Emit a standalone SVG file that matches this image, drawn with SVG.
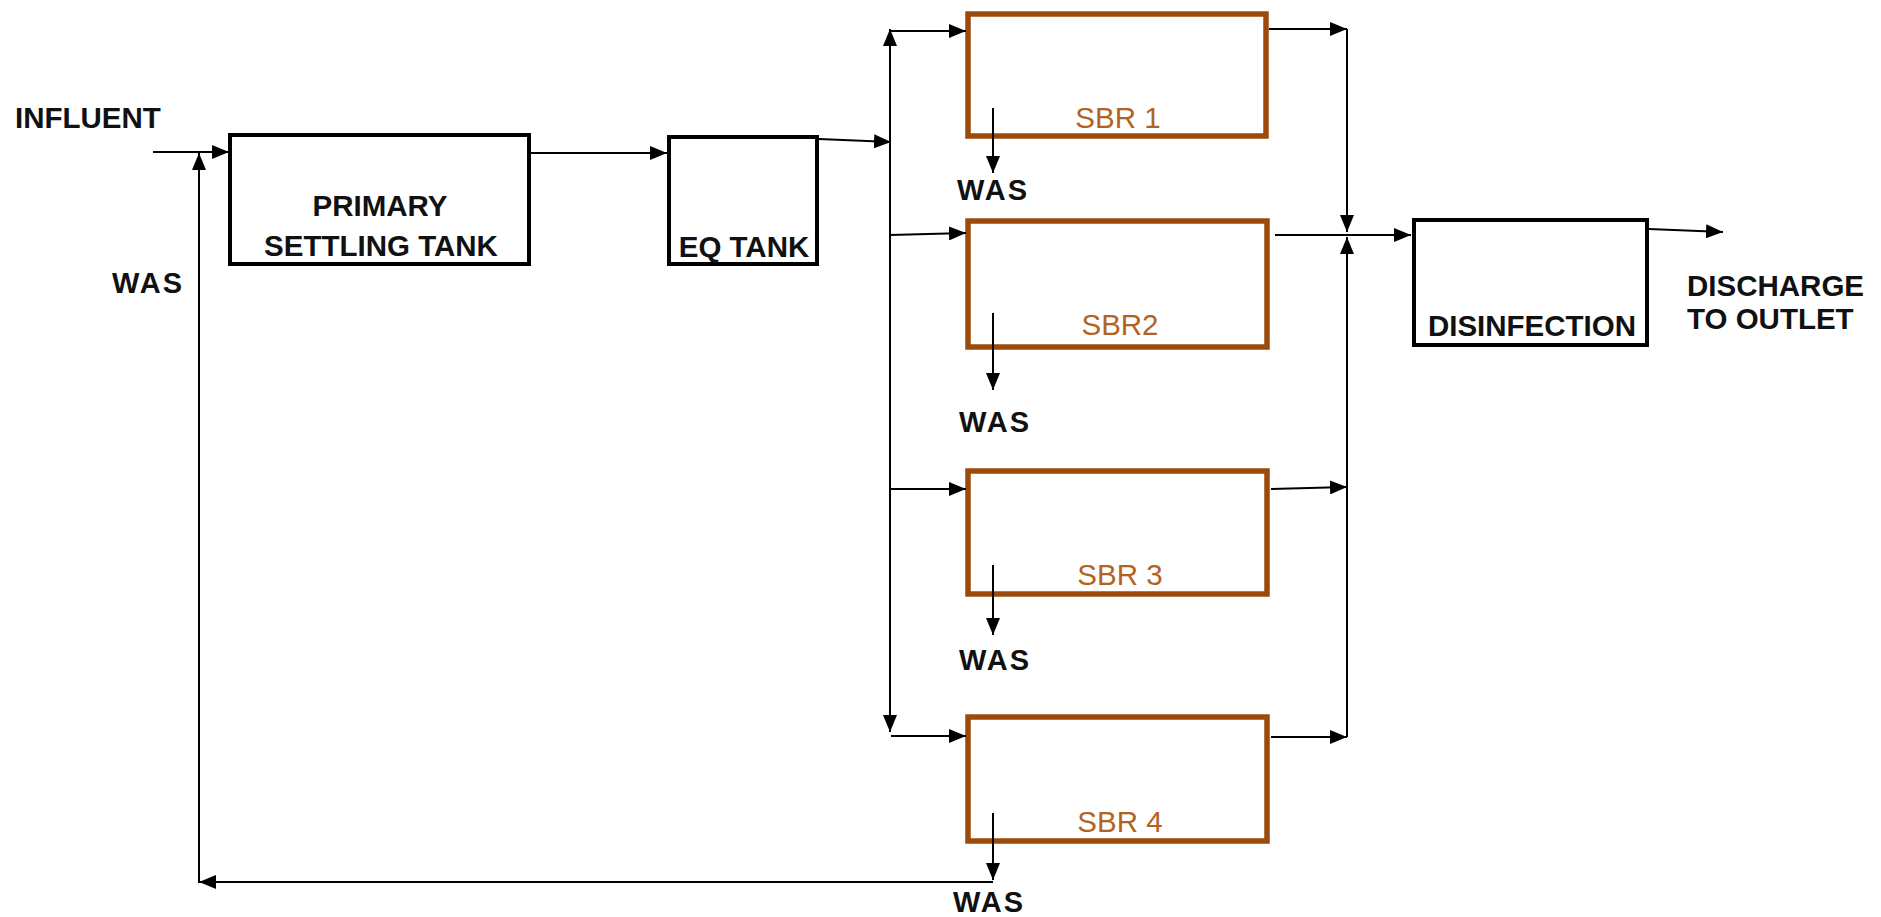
<svg xmlns="http://www.w3.org/2000/svg" width="1881" height="917" viewBox="0 0 1881 917">
<style>
.box{fill:none;stroke:#000;stroke-width:4}
.sbr{fill:none;stroke:#9C4A0B;stroke-width:5.5}
.lbl{font-family:"Liberation Sans",Arial,sans-serif;font-weight:bold;font-size:29.5px;fill:#111}
.was{font-family:"Liberation Sans",Arial,sans-serif;font-weight:bold;font-size:29px;fill:#111;letter-spacing:2px}
.sbrt{font-family:"Liberation Sans",Arial,sans-serif;font-size:29.5px;fill:#B3631F;text-anchor:middle}
.c line{stroke:#000;stroke-width:2;fill:none}
.a{marker-end:url(#ah)}
</style>
<defs>
<marker id="ah" markerUnits="userSpaceOnUse" markerWidth="18" markerHeight="14" refX="17" refY="7" orient="auto">
<path d="M0,0 L17,7 L0,14 z" fill="#000"/>
</marker>
</defs>
<rect width="1881" height="917" fill="#fff"/>
<g id="influent"><text class="lbl" x="15" y="128" font-size="31">INFLUENT</text></g>
<g id="pst"><rect class="box" x="230" y="135" width="299" height="129"/>
<text class="lbl" x="380" y="216" text-anchor="middle">PRIMARY</text>
<text class="lbl" x="381" y="256" text-anchor="middle">SETTLING TANK</text></g>
<g id="eq"><rect class="box" x="669" y="137" width="148" height="127"/>
<text class="lbl" x="744" y="257" text-anchor="middle">EQ TANK</text></g>
<g id="sbr1"><rect class="sbr" x="968" y="14" width="298" height="122"/>
<text class="sbrt" x="1118" y="128">SBR 1</text></g>
<g id="sbr2"><rect class="sbr" x="968" y="221" width="299" height="126"/>
<text class="sbrt" x="1120" y="335">SBR2</text></g>
<g id="sbr3"><rect class="sbr" x="968" y="471" width="299" height="123"/>
<text class="sbrt" x="1120" y="585">SBR 3</text></g>
<g id="sbr4"><rect class="sbr" x="968" y="717" width="299" height="124"/>
<text class="sbrt" x="1120" y="832">SBR 4</text></g>
<g id="disinfection"><rect class="box" x="1414" y="220" width="233" height="125"/>
<text class="lbl" x="1532" y="336" text-anchor="middle">DISINFECTION</text></g>
<g id="discharge"><text class="lbl" x="1687" y="296" font-size="30.5">DISCHARGE</text>
<text class="lbl" x="1687" y="329" font-size="30.5">TO OUTLET</text></g>
<g id="was-labels">
<text class="was" x="112" y="293">WAS</text>
<text class="was" x="957" y="200">WAS</text>
<text class="was" x="959" y="432">WAS</text>
<text class="was" x="959" y="670">WAS</text>
<text class="was" x="953" y="912">WAS</text>
</g>
<g id="connectors" class="c">
<line class="a" x1="153" y1="152" x2="229" y2="152"/>
<line class="a" x1="199" y1="883" x2="199" y2="153"/>
<line class="a" x1="993" y1="882" x2="199" y2="882"/>
<line class="a" x1="531" y1="153" x2="667" y2="153"/>
<line class="a" x1="819" y1="139" x2="891" y2="142"/>
<line class="a" x1="890" y1="142" x2="890" y2="29"/>
<line class="a" x1="890" y1="142" x2="890" y2="732"/>
<line class="a" x1="890" y1="31" x2="966" y2="31"/>
<line class="a" x1="890" y1="235" x2="966" y2="233"/>
<line class="a" x1="890" y1="489" x2="966" y2="489"/>
<line class="a" x1="891" y1="736" x2="966" y2="736"/>
<line class="a" x1="1269" y1="29" x2="1347" y2="29"/>
<line class="a" x1="1347" y1="29" x2="1347" y2="232"/>
<line class="a" x1="1347" y1="737" x2="1347" y2="237"/>
<line class="a" x1="1271" y1="489" x2="1347" y2="487"/>
<line class="a" x1="1271" y1="737" x2="1347" y2="737"/>
<line class="a" x1="1275" y1="235" x2="1411" y2="235"/>
<line class="a" x1="1649" y1="229" x2="1723" y2="232"/>
<line class="a" x1="993" y1="108" x2="993" y2="173"/>
<line class="a" x1="993" y1="313" x2="993" y2="390"/>
<line class="a" x1="993" y1="565" x2="993" y2="635"/>
<line class="a" x1="993" y1="813" x2="993" y2="880"/>
</g>
</svg>
